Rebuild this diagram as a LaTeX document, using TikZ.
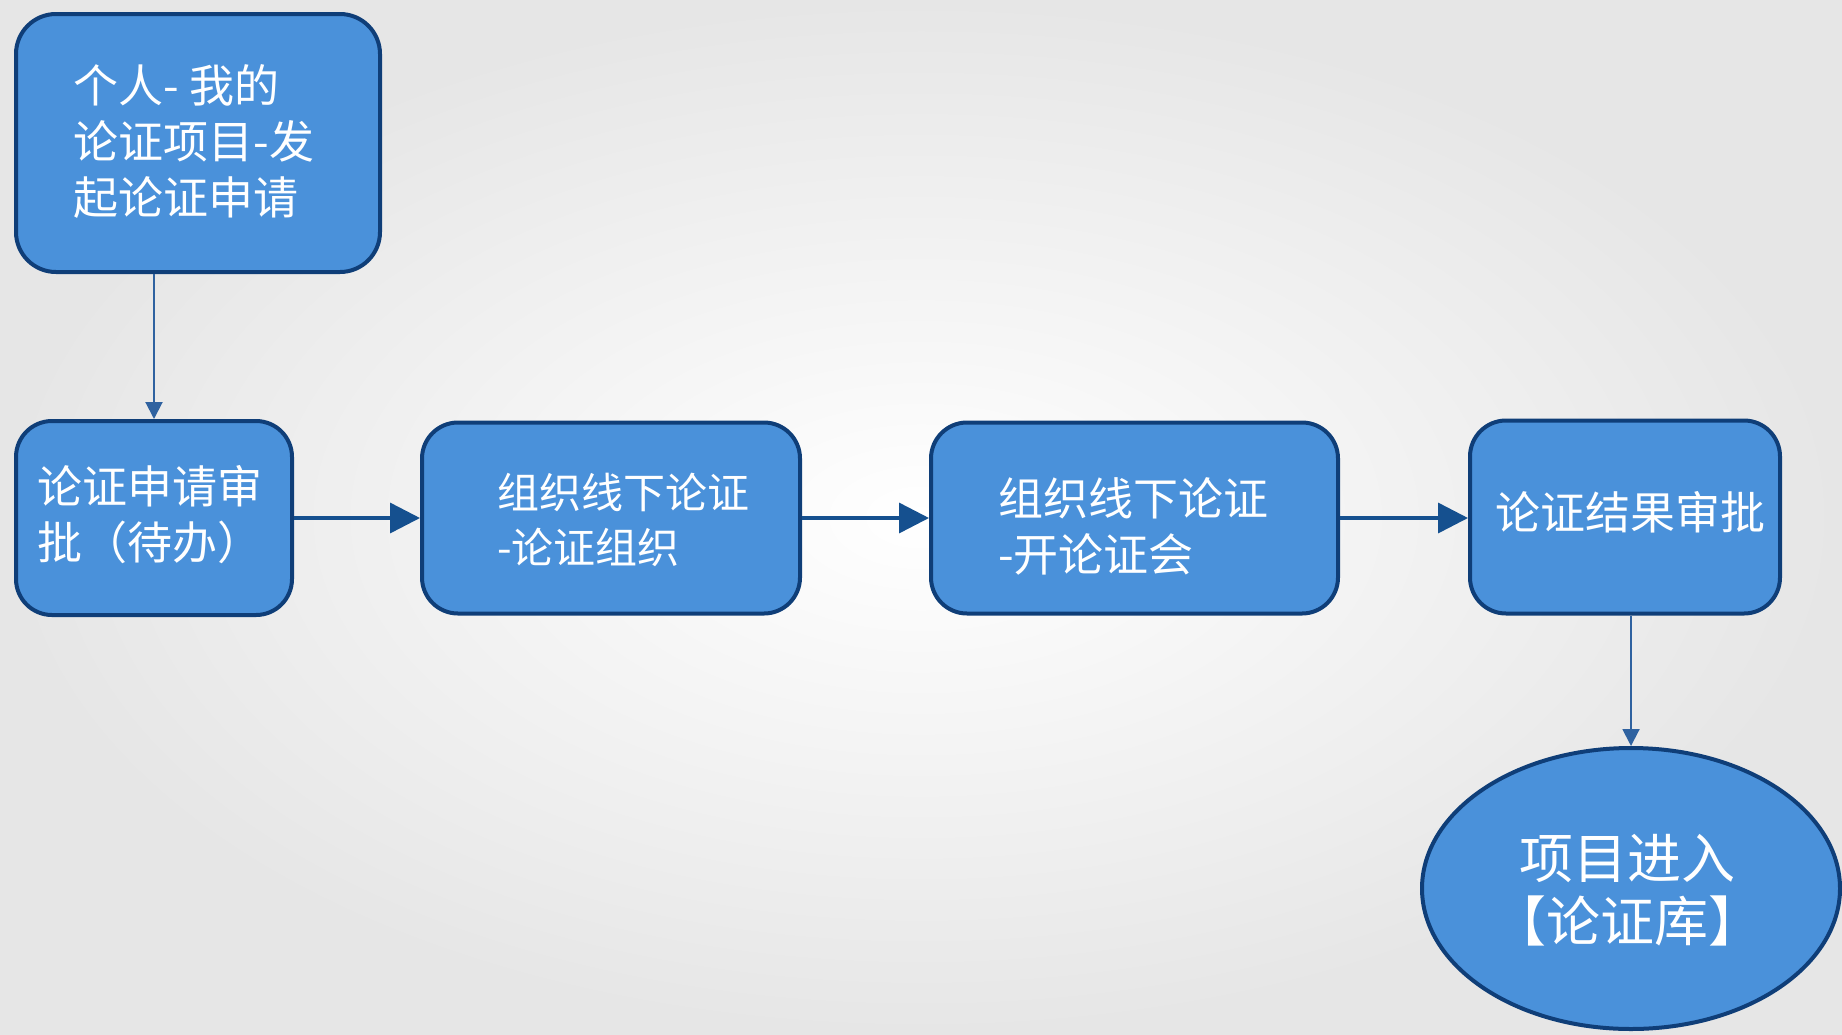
\documentclass[tikz,border=0pt]{standalone}
\usepackage{fontspec}
\setmainfont{Noto Sans CJK SC}
\usetikzlibrary{arrows.meta,shapes.geometric}
\definecolor{boxfill}{HTML}{4A91DA}
\definecolor{boxline}{HTML}{0F3E78}
\definecolor{arrowh}{HTML}{15508F}
\definecolor{arrowv}{HTML}{2F62A0}
\definecolor{bgedge}{HTML}{E6E6E6}
\begin{document}
\begin{tikzpicture}[x=1pt,y=-1pt,
  proc/.style={draw=boxline, line width=4pt, fill=boxfill, rounded corners=36pt, inner sep=0pt},
  endnode/.style={draw=boxline, line width=4pt, fill=boxfill, ellipse, inner sep=0pt},
  lbl/.style={text=white, font=\fontsize{45}{56}\selectfont, align=left, inner sep=0pt},
  lblc/.style={text=white, font=\fontsize{54}{63}\selectfont, align=center, inner sep=0pt},
  harrow/.style={draw=arrowh, line width=3.5pt, -{Triangle[length=30pt,width=30pt]}},
  varrow/.style={draw=arrowv, line width=2pt, -{Triangle[length=17pt,width=17pt]}}]
\useasboundingbox (0,0) rectangle (1842,1034);
\shade[inner color=white, outer color=bgedge] (0,0) rectangle (1842,1034);

\node[proc, minimum width=364pt, minimum height=258pt, rounded corners=40pt] (b1) at (198,143) {};
\node[lbl] (t1) at (194,141) {个人- 我的\\论证项目-发\\起论证申请};

\node[proc, minimum width=276pt, minimum height=194pt] (b2) at (154,518) {};
\node[lbl] (t2) at (150,515) {论证申请审\\批（待办）};

\node[proc, minimum width=378pt, minimum height=191pt] (b3) at (611,518) {};
\node[lbl, font=\fontsize{42}{55}\selectfont] (t3) at (623,520) {组织线下论证\\-论证组织};

\node[proc, minimum width=407pt, minimum height=191pt] (b4) at (1134.5,518) {};
\node[lbl] (t4) at (1133,526) {组织线下论证\\-开论证会};

\node[proc, minimum width=310pt, minimum height=193pt] (b5) at (1625,517) {};
\node[lbl] (t5) at (1630,512) {论证结果审批};

\node[endnode, minimum width=418pt, minimum height=281pt] (e) at (1631,888.5) {};
\node[lblc] (te) at (1627,890) {项目进入\\【论证库】};

\draw[varrow] (b2.north |- b1.south) -- (b2.north);
\draw[harrow] (b2.east) -- (b3.west |- b2.east);
\draw[harrow] (b3.east) -- (b4.west |- b3.east);
\draw[harrow] (b4.east) -- (b5.west |- b4.east);
\draw[varrow] (e.north |- b5.south) -- (e.north);
\end{tikzpicture}
\end{document}
